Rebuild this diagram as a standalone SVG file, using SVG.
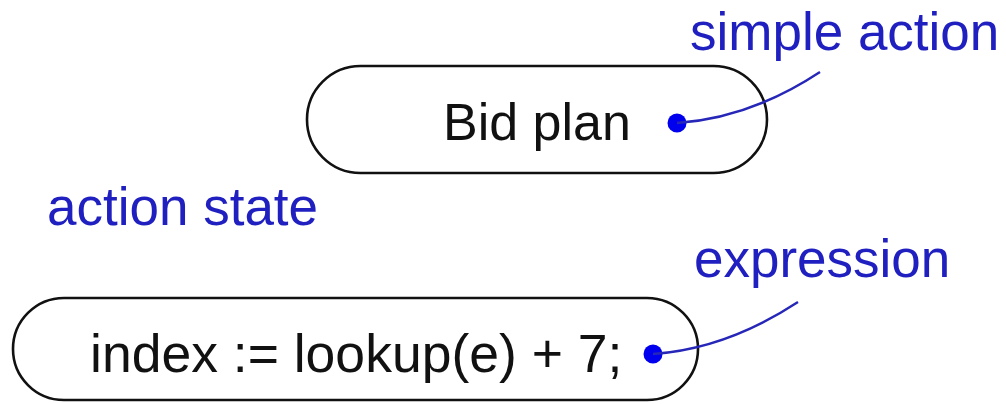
<svg xmlns="http://www.w3.org/2000/svg" width="1006" height="404" viewBox="0 0 1006 404">
<style>
.cap{fill:#fff;stroke:#111;stroke-width:2.6}
.t{font-family:"Liberation Sans",Arial,sans-serif;fill:#111}
.note{font-family:"Liberation Sans",Arial,sans-serif;fill:#2020c0;font-size:53px}
.lead{fill:none;stroke:#2626b8;stroke-width:2.4}
.dot{fill:#0000ee}
</style>
<rect width="1006" height="404" fill="#fff"/>
<g id="bid-plan">
<rect class="cap" x="307" y="66" width="460" height="107" rx="53.5"/>
<text class="t" x="443" y="140" font-size="52">Bid plan</text>
<circle class="dot" cx="677" cy="123" r="9.5"/>
</g>
<g id="index-state">
<rect class="cap" x="13" y="298" width="685" height="102" rx="51"/>
<text class="t" x="90" y="372" font-size="53.5">index := lookup(e) + 7;</text>
<circle class="dot" cx="653" cy="354" r="9.5"/>
</g>
<g id="label-simple-action"><text class="note" x="690" y="50">simple action</text></g>
<g id="label-action-state"><text class="note" x="47" y="225">action state</text></g>
<g id="label-expression"><text class="note" x="694" y="277">expression</text></g>
<g id="connectors">
<path class="lead" d="M677,123 C720,120 770,105 820,72"/>
<path class="lead" d="M653,354 C696,351 746,336 798,302"/>
</g>
</svg>
